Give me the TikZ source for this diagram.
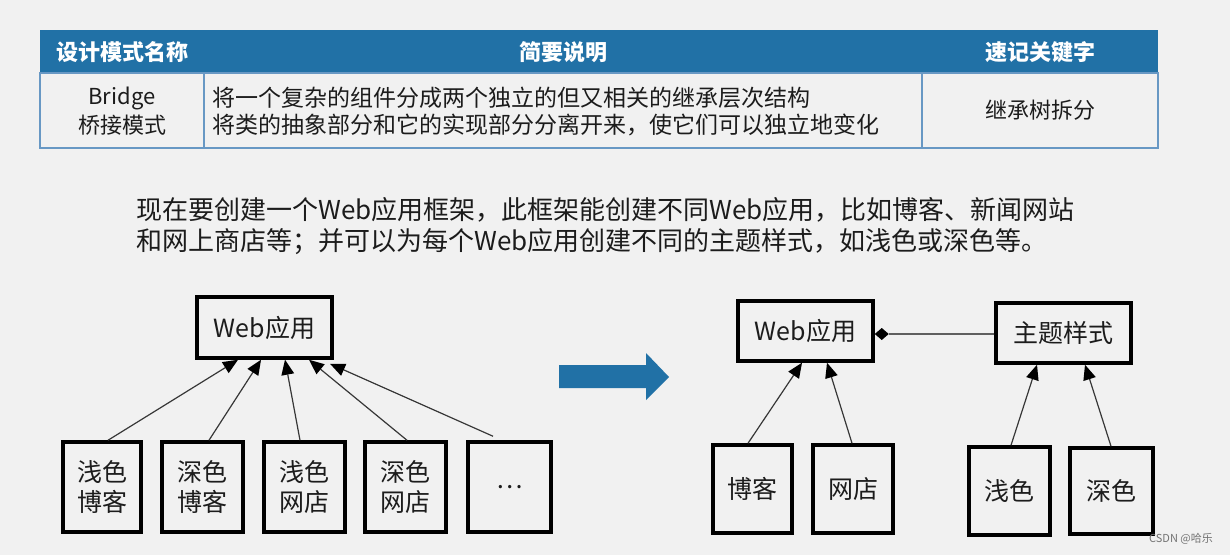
\documentclass[tikz,border=0pt]{standalone}
\usepackage{fontspec}
\setmainfont{Noto Sans CJK SC}
\usetikzlibrary{arrows.meta,calc}
\definecolor{bgc}{RGB}{241,241,241}
\definecolor{hdr}{RGB}{33,113,166}
\definecolor{tbl}{RGB}{104,152,196}
\definecolor{txt}{RGB}{28,28,28}
\definecolor{lnc}{RGB}{55,55,55}
\tikzset{
  hdrtext/.style={text=white,font=\fontsize{22}{26}\selectfont\bfseries,inner sep=0pt},
  celltext/.style={text=txt,font=\fontsize{22}{27}\selectfont,inner sep=0pt,align=center},
  desctext/.style={text=txt,font=\fontsize{23}{27}\selectfont,inner sep=0pt,anchor=west},
  paratext/.style={text=txt,font=\fontsize{26}{32}\selectfont,inner sep=0pt,anchor=west},
  umlbox/.style={draw=black,line width=3.5pt,text=txt,font=\fontsize{25}{30}\selectfont,
                 inner sep=0pt,align=center,fill=bgc},
  inherit/.style={draw=lnc,line width=1.2pt},
  compose/.style={draw=lnc!80,line width=1.5pt},
  tiphead/.style={fill=black,draw=none},
}
\begin{document}
\begin{tikzpicture}[x=1pt,y=-1pt]
\fill[bgc] (0,0) rectangle (1230,555);
\useasboundingbox (0,0) rectangle (1230,555);

% ---- table ----
\fill[hdr] (40,30) rectangle (1158,73);
\draw[tbl,line width=2pt] (40,73) rectangle (1158,148);
\draw[tbl,line width=1.6pt] (204,73) -- (204,148);
\draw[tbl,line width=1.6pt] (922,73) -- (922,148);
\node[hdrtext] (h1) at (122,52) {设计模式名称};
\node[hdrtext] (h2) at (563,52) {简要说明};
\node[hdrtext] (h3) at (1040,52) {速记关键字};
\node[celltext] (c1a) at (122,98) {Bridge};
\node[celltext] (c1b) at (122,125) {桥接模式};
\node[desctext] (d1) at (212,98) {将一个复杂的组件分成两个独立的但又相关的继承层次结构};
\node[desctext] (d2) at (212,125) {将类的抽象部分和它的实现部分分离开来，使它们可以独立地变化};
\node[celltext] (c3) at (1040,110) {继承树拆分};

% ---- paragraph ----
\node[paratext] (p1) at (136,210) {现在要创建一个Web应用框架，此框架能创建不同Web应用，比如博客、新闻网站};
\node[paratext] (p2) at (136,242) {和网上商店等；并可以为每个Web应用创建不同的主题样式，如浅色或深色等。};

% ---- left diagram ----
\node[umlbox,minimum width=135pt,minimum height=61pt] (web) at (264.5,327.5) {Web应用};
\node[umlbox,minimum width=78pt,minimum height=90pt] (b1) at (102,487) {浅色\\博客};
\node[umlbox,minimum width=81pt,minimum height=90pt] (b2) at (202.5,487) {深色\\博客};
\node[umlbox,minimum width=81pt,minimum height=90pt] (b3) at (304.5,487) {浅色\\网店};
\node[umlbox,minimum width=81pt,minimum height=90pt] (b4) at (405.5,487) {深色\\网店};
\node[umlbox,minimum width=83pt,minimum height=90pt] (b5) at (509.5,487) {…};

% ---- big arrow ----
\fill[hdr] (559,365) -- (646,365) -- (646,353) -- (669,377) -- (646,400) -- (646,388) -- (559,388) -- cycle;

% ---- right diagram ----
\node[umlbox,minimum width=135pt,minimum height=60pt] (web2) at (805.5,331) {Web应用};
\node[umlbox,minimum width=135pt,minimum height=60pt] (theme) at (1063.5,333) {主题样式};
\node[umlbox,minimum width=79pt,minimum height=88pt] (blog) at (752.5,489) {博客};
\node[umlbox,minimum width=80pt,minimum height=88pt] (shop) at (853,489) {网店};
\node[umlbox,minimum width=81pt,minimum height=88pt] (light) at (1009.5,491) {浅色};
\node[umlbox,minimum width=83pt,minimum height=86pt] (dark) at (1111.5,491) {深色};

% inheritance connectors with filled triangle heads
\foreach \src/\sx/\sy/\dst/\dx/\dy in {b1/6/0/web/-26.5/0, b2/6.5/0/web/-3.5/0, b3/-4.5/0/web/20.5/0,
    b4/1.5/0/web/44.5/0, b5/-16.5/4/web/65.5/-4,
    blog/-4.5/0/web2/-3.5/0, shop/-1/0/web2/21.5/0,
    light/1.5/0/theme/-26.5/0, dark/-0.5/0/theme/21.5/0}{
  \coordinate (s) at ([xshift=\sx pt,yshift=\sy pt]\src.north);
  \coordinate (t) at ([xshift=\dx pt,yshift=\dy pt]\dst.south);
  \coordinate (hb) at ($(t)!15pt!(s)$);
  \draw[inherit] (s) -- (hb);
  \fill[tiphead] (t) -- ($(hb)!6.5pt!90:(t)$) -- ($(hb)!6.5pt!-90:(t)$) -- cycle;
}

% composition connector with filled diamond
\coordinate (de) at ([yshift=-1pt]theme.west -| web2.east);
\draw[compose] ([yshift=-1pt]theme.west) -- ([xshift=14pt]de);
\fill[tiphead] (de) -- ([xshift=7pt,yshift=6pt]de) -- ([xshift=14pt]de) -- ([xshift=7pt,yshift=-6pt]de) -- cycle;

% ---- watermark ----
\node[text=black!55,font=\fontsize{11}{13}\selectfont,inner sep=0pt] (wm) at (1181,539) {CSDN @哈乐};
\end{tikzpicture}
\end{document}
